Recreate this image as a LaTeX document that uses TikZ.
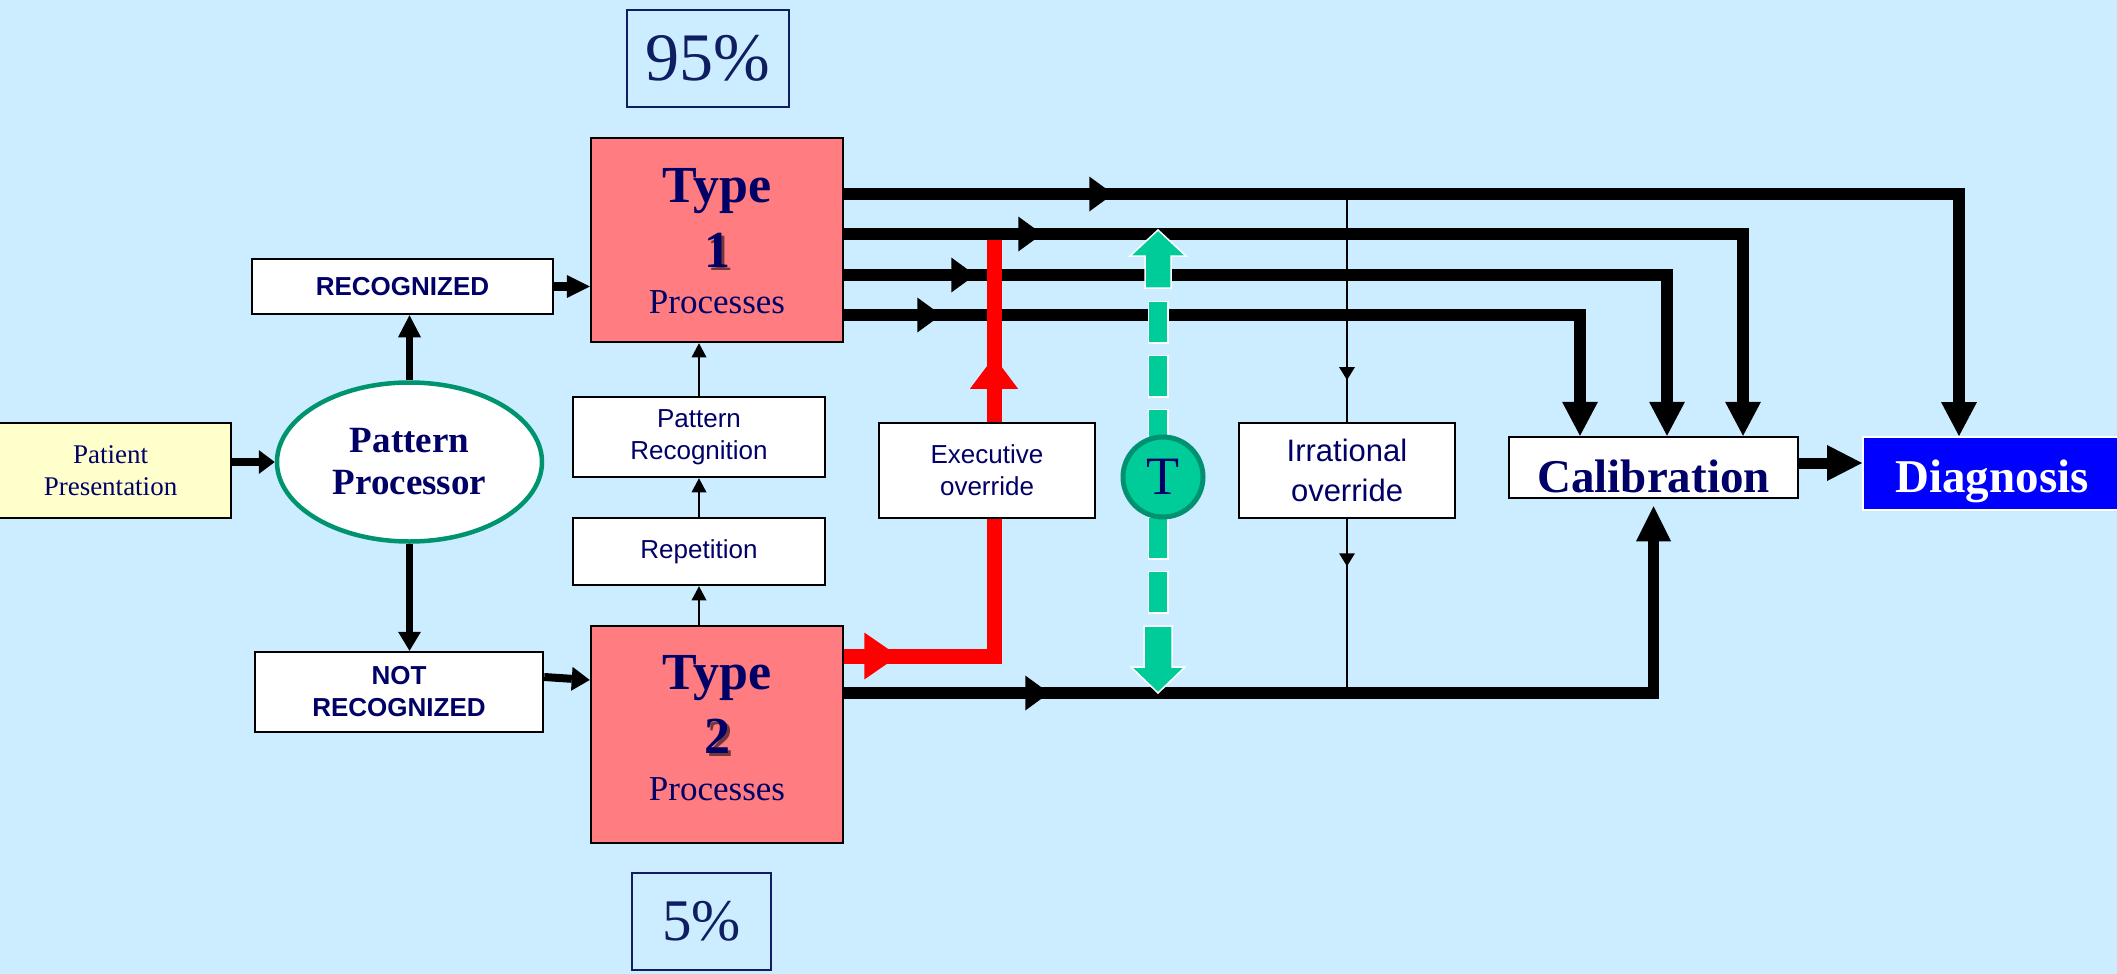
\documentclass[tikz,border=0pt]{standalone}
\usepackage{fontspec}
\setmainfont{Liberation Serif}
\setsansfont{Liberation Sans}
\usetikzlibrary{arrows.meta,decorations.markings,shapes.geometric}

\definecolor{bgblue}{RGB}{204,236,255}
\definecolor{navy}{RGB}{0,0,102}
\definecolor{pctblue}{RGB}{14,30,96}
\definecolor{salmon}{RGB}{255,124,128}
\definecolor{paleyellow}{RGB}{255,255,204}
\definecolor{ppgreen}{RGB}{0,148,110}
\definecolor{tealfill}{RGB}{0,204,153}
\definecolor{tealedge}{RGB}{0,146,112}
\definecolor{diagblue}{RGB}{0,0,255}
\definecolor{redline}{RGB}{255,0,0}

\newcommand{\fsz}[2]{\fontsize{#1}{#2}\selectfont}

\pgfdeclarelayer{backdrop}
\pgfdeclarelayer{wires}
\pgfsetlayers{backdrop,wires,main}

\tikzset{
  wbox/.style={draw=black, line width=2.5pt, fill=white, inner sep=0pt,
    text=navy, align=center, font=\sffamily\fsz{26}{32}},
  typebox/.style={draw=black, line width=2.5pt, fill=salmon, inner sep=0pt},
  pctbox/.style={draw=pctblue, line width=2.5pt, inner sep=0pt, text=pctblue},
  typeword/.style={anchor=base, text=navy, font=\bfseries\fsz{52}{52}},
  typenum/.style={anchor=base, text=navy, font=\bfseries\fsz{52}{52}},
  typeshadow/.style={anchor=base, text=black, opacity=0.55, font=\bfseries\fsz{52}{52}},
  typeproc/.style={anchor=base, text=navy, font=\fsz{35}{35}},
  wire/.style={line width=11.5pt, line join=miter},
  thinwire/.style={line width=2pt, -{Triangle[length=14pt,width=15pt,line width=0pt]}},
  tipat/.style args={#1/#2/#3}{postaction={decorate, decoration={markings,
      mark=at position #1 with {\arrow{Triangle[length=#2,width=#3,line width=0pt]}}}}},
}

\begin{document}
\begin{tikzpicture}[x=1pt, y=-1pt]
\useasboundingbox (0,0) rectangle (2117,974);
\begin{pgfonlayer}{backdrop}
  \fill[bgblue] (0,0) rectangle (2117,974);
\end{pgfonlayer}

% ---- boxes ----
\node[wbox, fill=paleyellow, font=\fsz{27}{32}, minimum width=241pt, minimum height=95pt]
  (pp) at (110.5,470.5) {Patient\\Presentation};
\node[ellipse, draw=ppgreen, line width=4.5pt, fill=white, inner sep=0pt,
  minimum width=265pt, minimum height=159pt, text=navy, align=center,
  font=\bfseries\fsz{37}{42}] (pproc) at (409.5,462) {Pattern\\Processor};
\node[wbox, font=\sffamily\bfseries\fsz{26}{32}, minimum width=301pt, minimum height=55pt]
  (rec) at (402.5,286.5) {RECOGNIZED};
\node[wbox, font=\sffamily\bfseries\fsz{26}{32}, minimum width=288pt, minimum height=80pt]
  (nrec) at (399,692) {NOT\\RECOGNIZED};

\node[typebox, minimum width=252pt, minimum height=204pt] (t1) at (717,240) {};
\node[typeword] (t1a) at (717,202) {Type};
\node[typeshadow] (t1s) at (720,270) {1};
\node[typenum] (t1n) at (717,267) {1};
\node[typeproc] (t1p) at (717,313) {Processes};

\node[typebox, minimum width=252pt, minimum height=217pt] (t2) at (717,734.5) {};
\node[typeword] (t2a) at (717,689) {Type};
\node[typeshadow] (t2s) at (720,756) {2};
\node[typenum] (t2n) at (717,753) {2};
\node[typeproc] (t2p) at (717,800) {Processes};

\node[pctbox, font=\fsz{68}{68}, minimum width=162pt, minimum height=97pt] (p95) at (708,58.5) {95\%};
\node[pctbox, font=\fsz{59}{59}, minimum width=139pt, minimum height=97pt] (p5) at (701.5,921.5) {5\%};

\node[wbox, minimum width=252pt, minimum height=80pt] (prec) at (699,437) {Pattern\\Recognition};
\node[wbox, minimum width=252pt, minimum height=67pt] (rep) at (699,551.5) {Repetition};
\node[wbox, minimum width=216pt, minimum height=95pt] (exec) at (987,470.5) {Executive\\override};
\node[wbox, font=\sffamily\fsz{31}{40}, minimum width=216pt, minimum height=95pt]
  (irr) at (1347,470.5) {Irrational\\override};
\node[circle, draw=tealedge, line width=5pt, fill=tealfill, minimum size=80pt, inner sep=0pt,
  text=navy, font=\fsz{54}{54}] (tc) at (1163,477) {T};

\node[wbox, minimum width=289pt, minimum height=61pt] (calib) at (1653.5,467.5) {};
\node[anchor=base, text=navy, font=\bfseries\fsz{47}{47}] (calibt) at (1653.5,492) {Calibration};
\node[draw=white, line width=2pt, fill=diagblue, inner sep=0pt, minimum width=262pt,
  minimum height=73pt] (diag) at (1994,473.5) {};
\node[anchor=base, text=white, font=\bfseries\fsz{47}{47}] (diagt) at (1992,492) {Diagnosis};

% ---- connectors ----
\coordinate (redtop) at (994,240);
\coordinate (irrtop) at (1347,194);
\coordinate (irrbot) at (1347,693);
\coordinate (ttop) at (1158,230);
\coordinate (tbot) at (1158,693);
\coordinate (dtop) at (1158,302);
\coordinate (dbot) at (1158,612);

\begin{pgfonlayer}{wires}
  % entry part
  \draw[line width=7.5pt, -{Triangle[length=16pt,width=24pt,line width=0pt]}]
    ([yshift=8.5pt]pp.east) -- (pproc.west);
  \draw[line width=7.7pt, -{Triangle[length=22pt,width=23pt,line width=0pt]}]
    (pproc.north) -- (pproc.north |- rec.south);
  \draw[line width=7.7pt, -{Triangle[length=19pt,width=23pt,line width=0pt]}]
    (pproc.south) -- (pproc.south |- nrec.north);
  \draw[line width=9pt, -{Triangle[length=23pt,width=23pt,line width=0pt]}]
    (rec.east) -- (rec.east -| t1.west);
  \draw[line width=8pt, -{Triangle[length=18pt,width=24pt,line width=0pt]}]
    ([yshift=15pt]nrec.east) -- ([yshift=54.5pt]t2.west);

  % pattern recognition ladder
  \draw[thinwire] ([xshift=-18pt]t2.north) -- (rep.south);
  \draw[thinwire] (rep.north) -- (prec.south);
  \draw[thinwire] (prec.north) -- ([xshift=-18pt]t1.south);

  % Type 1 outputs
  \draw[wire, -{Triangle[length=34pt,width=36pt,line width=0pt]}, tipat=269pt/24pt/35pt]
    ([yshift=46pt]t1.east) -| ([xshift=-35pt]diag.north);
  \draw[wire, -{Triangle[length=34pt,width=36pt,line width=0pt]}, tipat=198pt/24pt/35pt]
    ([yshift=6pt]t1.east) -| ([xshift=89.5pt]calib.north);
  \draw[wire, -{Triangle[length=34pt,width=36pt,line width=0pt]}, tipat=131pt/24pt/35pt]
    ([yshift=-35pt]t1.east) -| ([xshift=13.5pt]calib.north);
  \draw[wire, -{Triangle[length=34pt,width=36pt,line width=0pt]}, tipat=97pt/24pt/35pt]
    ([yshift=-75pt]t1.east) -| ([xshift=-73.5pt]calib.north);

  % Type 2 output
  \draw[wire, -{Triangle[length=35pt,width=35pt,line width=0pt]}, shorten >=7pt,
    tipat=205pt/24pt/35pt]
    ([yshift=41.5pt]t2.east) -| (calib.south);

  % calibration to diagnosis
  \draw[line width=11pt, -{Triangle[length=35pt,width=36pt,line width=0pt]}]
    ([yshift=4.5pt]calib.east) -- ([yshift=10.5pt]diag.west);

  % irrational override
  \draw[line width=2pt, tipat=186pt/13pt/16pt] (irrtop) -- (irr.north);
  \draw[line width=2pt, tipat=47pt/13pt/16pt] (irr.south) -- (irrbot);

  % executive override
  \draw[redline, line width=15pt, line join=miter, tipat=54pt/34pt/47pt, tipat=449pt/32pt/48pt]
    ([yshift=78.5pt]t2.east) -| (redtop);

  % toggle (T) double arrow
  \draw[white, line width=21pt, dash pattern=on 43pt off 11pt]
    ([yshift=1.5pt]dtop) -- ([yshift=-1.5pt]dbot);
  \draw[tealfill, line width=18pt, dash pattern=on 40pt off 14pt] (dtop) -- (dbot);
  \begin{scope}[shift={(ttop)}]
    \filldraw[fill=tealfill, draw=white, line width=1.5pt, line join=miter]
      (0,0) -- (28,26) -- (13,26) -- (13,58) -- (-13,58) -- (-13,26) -- (-28,26) -- cycle;
  \end{scope}
  \begin{scope}[shift={(tbot)}]
    \filldraw[fill=tealfill, draw=white, line width=1.5pt, line join=miter]
      (0,0) -- (27,-26) -- (14,-26) -- (14,-67) -- (-14,-67) -- (-14,-26) -- (-27,-26) -- cycle;
  \end{scope}
\end{pgfonlayer}
\end{tikzpicture}
\end{document}
